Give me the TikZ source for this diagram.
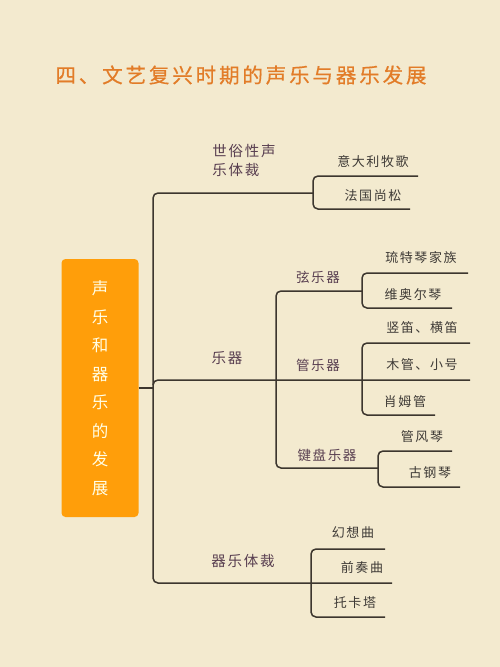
\documentclass[tikz,border=0pt]{standalone}
\usepackage{fontspec}
\newfontfamily\cjk[LetterSpace=12]{Noto Sans CJK SC}
\newfontfamily\cjkhead[LetterSpace=14,FakeBold=0.6]{Noto Sans CJK SC}
\definecolor{paper}{RGB}{243,234,207}
\definecolor{boxorange}{RGB}{255,158,10}
\definecolor{headorange}{RGB}{226,124,40}
\definecolor{branchtext}{RGB}{88,62,80}
\definecolor{leaftext}{RGB}{62,58,54}
\definecolor{linkcol}{RGB}{60,54,46}
\tikzset{
  link/.style = {draw=linkcol, line width=1.5pt, rounded corners=5pt},
  branch/.style = {font=\cjk\fontsize{14.5}{19}\selectfont, text=branchtext, align=left, inner sep=0pt},
  leaf/.style = {font=\cjk\fontsize{13}{16}\selectfont, text=leaftext, inner sep=0pt},
}
\begin{document}
\begin{tikzpicture}[x=1pt, y=-1pt]
\fill[paper] (0,0) rectangle (500,667);
\useasboundingbox (0,0) rectangle (500,667);

% title
\node (title) at (241,75) {\cjkhead\fontsize{20.5}{24}\selectfont\color{headorange}四、文艺复兴时期的声乐与器乐发展};

% root box
\node[fill=boxorange, rounded corners=4pt, minimum width=77pt, minimum height=258pt,
      text width=20pt, align=center, inner sep=0pt,
      font=\cjk\fontsize{16.5}{28.5}\selectfont, text={white!90!yellow}] (root) at (100,388)
  {声\\乐\\和\\器\\乐\\的\\发\\展};

% first level
\node[branch] (secular) at (244,160) {世俗性声\\乐体裁};
\node[branch] (instr) at (227,358) {乐器};
\node[branch] (genre) at (243,561) {器乐体裁};

% second level
\node[branch, font=\cjk\fontsize{13.5}{16}\selectfont] (string) at (318,277) {弦乐器};
\node[branch, font=\cjk\fontsize{13.5}{16}\selectfont] (wind) at (318,365) {管乐器};
\node[branch, font=\cjk\fontsize{13.5}{16}\selectfont] (keys) at (327,455) {键盘乐器};

% leaves
\node[leaf] (madrigal) at (373,162) {意大利牧歌};
\node[leaf] (chanson) at (373,196) {法国尚松};
\node[leaf] (lute) at (421,258) {琉特琴家族};
\node[leaf] (viol) at (413,295) {维奥尔琴};
\node[leaf] (flute) at (422,328) {竖笛、横笛};
\node[leaf] (brass) at (422,365) {木管、小号};
\node[leaf] (shawm) at (405,402) {肖姆管};
\node[leaf] (organ) at (422,437) {管风琴};
\node[leaf] (harpsi) at (430,473) {古钢琴};
\node[leaf] (fantasia) at (353,533) {幻想曲};
\node[leaf] (prelude) at (362,568) {前奏曲};
\node[leaf] (toccata) at (355,603) {托卡塔};

% junctions and line ends
\coordinate (trunk) at (153,388);
\coordinate (trunk-top) at (153,193);
\coordinate (trunk-mid) at (153,380);
\coordinate (trunk-bot) at (153,583);
\coordinate (secular-b) at (313,193);
\coordinate (madrigal-b) at (313,176);
\coordinate (madrigal-e) at (418,176);
\coordinate (chanson-b) at (313,209);
\coordinate (chanson-e) at (410,209);
\coordinate (sub-top) at (276,291);
\coordinate (sub-mid) at (276,380);
\coordinate (sub-bot) at (276,468);
\coordinate (string-b) at (362,291);
\coordinate (lute-b) at (362,273);
\coordinate (lute-e) at (468,273);
\coordinate (viol-b) at (362,308);
\coordinate (viol-e) at (452,308);
\coordinate (flute-b) at (362,343);
\coordinate (flute-e) at (470,343);
\coordinate (brass-e) at (470,380);
\coordinate (shawm-b) at (362,415);
\coordinate (shawm-e) at (435,415);
\coordinate (keys-b) at (378,468);
\coordinate (organ-b) at (378,451);
\coordinate (organ-e) at (452,451);
\coordinate (harpsi-b) at (378,487);
\coordinate (harpsi-e) at (460,487);
\coordinate (genre-b) at (311,583);
\coordinate (genre-e) at (392,583);
\coordinate (fantasia-b) at (311,549);
\coordinate (fantasia-e) at (385,549);
\coordinate (toccata-b) at (311,617);
\coordinate (toccata-e) at (385,617);

% trunk
\draw[link, rounded corners=0pt] (root.east |- trunk) -- (trunk);
\draw[link] (secular-b) -- (trunk-top) -- (trunk-bot) -- (genre-e);
\draw[link] (trunk-mid |- 0,385) -- (trunk-mid) -- (brass-e);

% secular branch
\draw[link] (madrigal-e) -- (madrigal-b) -- (chanson-b) -- (chanson-e);

% instrument branch
\draw[link] (string-b) -- (sub-top) -- (sub-bot) -- (keys-b);
\draw[link] (lute-e) -- (lute-b) -- (viol-b) -- (viol-e);
\draw[link] (flute-e) -- (flute-b) -- (shawm-b) -- (shawm-e);
\draw[link] (organ-e) -- (organ-b) -- (harpsi-b) -- (harpsi-e);

% genre branch
\draw[link] (fantasia-e) -- (fantasia-b) -- (toccata-b) -- (toccata-e);
\end{tikzpicture}
\end{document}
